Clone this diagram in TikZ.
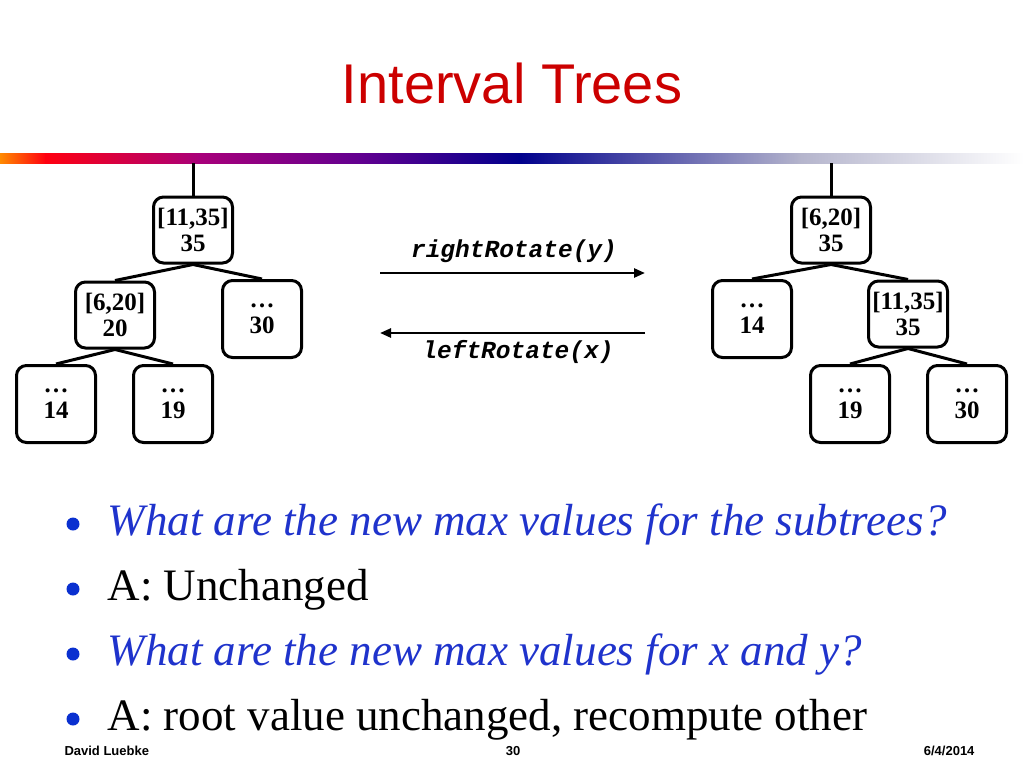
\documentclass[tikz,border=0pt]{standalone}
\usepackage{fontspec}
\setmainfont{Liberation Serif}
\newfontfamily\headfont{Liberation Sans}
\newfontfamily\codefont{Liberation Mono}
\usetikzlibrary{arrows.meta}
\definecolor{titlered}{HTML}{CC0000}
\definecolor{qblue}{HTML}{1F33CC}
\definecolor{dotblue}{HTML}{0A30D0}
\definecolor{barorange}{HTML}{FF8A00}
\definecolor{barred}{HTML}{FF0010}
\definecolor{barmag}{HTML}{A8007A}
\definecolor{barpurp}{HTML}{620090}
\definecolor{barnavy}{HTML}{00008C}
\definecolor{bargray}{HTML}{B4B4CC}
\tikzset{
  tnode/.style={draw, line width=3pt, rounded corners=10pt, minimum width=79pt, align=center, inner sep=0pt, font=\fontsize{25}{26}\selectfont\bfseries},
  innode/.style={tnode, minimum height=66pt},
  leaf/.style={tnode, minimum height=77pt},
  edge/.style={line width=3pt},
  rot/.style={line width=2.5pt, -{Triangle[length=11pt,width=9pt]}},
  rotlabel/.style={anchor=base, font=\codefont\bfseries\itshape\fontsize{24.5}{26}\selectfont},
  bul/.style={anchor=base west, font=\fontsize{45}{48}\selectfont},
  foot/.style={anchor=base, font=\headfont\bfseries\fontsize{13}{15}\selectfont}
}
\begin{document}
\begin{tikzpicture}[x=1pt,y=-1pt]
\fill[white] (0,0) rectangle (1024,768);
\useasboundingbox (0,0) rectangle (1024,768);

\node[anchor=base, text=titlered, font=\headfont\fontsize{56}{60}\selectfont] (title) at (512,103) {Interval Trees};

\shade[left color=barorange, right color=barred] (0,153) rectangle (46,163);
\shade[left color=barred, right color=barmag] (45,153) rectangle (200,163);
\shade[left color=barmag, right color=barpurp] (199,153) rectangle (360,163);
\shade[left color=barpurp, right color=barnavy] (359,153) rectangle (520,163);
\shade[left color=barnavy, right color=bargray] (519,153) rectangle (800,163);
\shade[left color=bargray, right color=white] (799,153) rectangle (1024,163);

\node[innode] (r1) at (193,230) {[11,35]\\35};
\node[innode] (a1) at (115,315) {[6,20]\\20};
\node[leaf] (b1) at (262,319) {…\\30};
\node[leaf] (c1) at (56,404) {…\\14};
\node[leaf] (d1) at (173,404) {…\\19};

\node[innode] (r2) at (831,230) {[6,20]\\35};
\node[leaf] (a2) at (752,319) {…\\14};
\node[innode] (b2) at (908,314) {[11,35]\\35};
\node[leaf] (c2) at (850,404) {…\\19};
\node[leaf] (d2) at (967,404) {…\\30};

\coordinate (t1) at (193,163);
\coordinate (t2) at (831,163);
\draw[edge] (t1) -- (r1.north);
\draw[edge] (r1.south) -- (a1.north);
\draw[edge] (r1.south) -- (b1.north);
\draw[edge] (a1.south) -- (c1.north);
\draw[edge] (a1.south) -- (d1.north);
\draw[edge] (t2) -- (r2.north);
\draw[edge] (r2.south) -- (a2.north);
\draw[edge] (r2.south) -- (b2.north);
\draw[edge] (b2.south) -- (c2.north);
\draw[edge] (b2.south) -- (d2.north);

\coordinate (ra) at (380,273);
\coordinate (rb) at (645,273);
\coordinate (la) at (645,333);
\coordinate (lb) at (380,333);
\draw[rot] (ra) -- (rb);
\draw[rot] (la) -- (lb);
\node[rotlabel] (rl) at (514,257) {rightRotate(y)};
\node[rotlabel] (ll) at (518,358) {leftRotate(x)};

\fill[dotblue] (73,524) circle (6.5);
\fill[dotblue] (73,589) circle (6.5);
\fill[dotblue] (73,654) circle (6.5);
\fill[dotblue] (73,719) circle (6.5);
\node[bul, text=qblue] (q1) at (104,535) {\itshape What are the new max values for the subtrees?};
\node[bul] (ans1) at (104,600) {A: Unchanged};
\node[bul, text=qblue] (q2) at (104,665) {\itshape What are the new max values for x and y?};
\node[bul] (ans2) at (104,730) {A: root value unchanged, recompute other};

\node[foot, anchor=base west] (who) at (61,755) {David Luebke};
\node[foot] (page) at (513,755) {30};
\node[foot, anchor=base east] (date) at (978,755) {6/4/2014};
\end{tikzpicture}
\end{document}
